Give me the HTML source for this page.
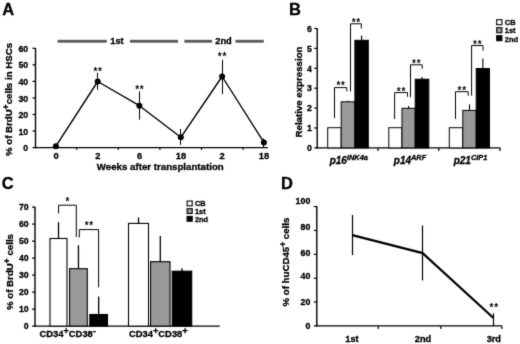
<!DOCTYPE html>
<html lang="en">
<head>
<meta charset="utf-8">
<title>Figure</title>
<style>
html,body{margin:0;padding:0;background:#fff;}
body{width:520px;height:344px;overflow:hidden;}
svg{display:block;filter:grayscale(1);}
svg text{font-family:"Liberation Sans", Arial, sans-serif;fill:#000;stroke:#000;stroke-width:0.3px;}
svg text.st{stroke-width:0;letter-spacing:0.7px;}
</style>
</head>
<body>
<svg width="520" height="344" viewBox="0 0 520 344">
<defs><filter id="soft" x="0" y="0" width="520" height="344" filterUnits="userSpaceOnUse" color-interpolation-filters="sRGB"><feConvolveMatrix order="3" kernelMatrix="0.02 0.08 0.02 0.08 0.6 0.08 0.02 0.08 0.02" divisor="1" edgeMode="duplicate" preserveAlpha="true"/></filter></defs>
<g filter="url(#soft)">
<rect x="-5" y="-5" width="530" height="354" fill="#fff"/>
<text x="2.2" y="14.5" font-size="16.5" text-anchor="start" font-weight="bold" font-style="normal" >A</text>
<rect x="57.6" y="39.8" width="49.2" height="2.9" fill="#5c5c5c"/>
<rect x="130" y="39.8" width="48.0" height="2.9" fill="#5c5c5c"/>
<rect x="184.4" y="39.8" width="27.7" height="2.9" fill="#5c5c5c"/>
<rect x="235.5" y="39.8" width="28.3" height="2.9" fill="#5c5c5c"/>
<text x="117" y="44.2" font-size="9.3" text-anchor="middle" font-weight="bold" font-style="normal" >1st</text>
<text x="223.5" y="44.2" font-size="9.3" text-anchor="middle" font-weight="bold" font-style="normal" >2nd</text>
<line x1="35.5" y1="48.0" x2="35.5" y2="148.29999999999998" stroke="#000" stroke-width="1.4" />
<line x1="34.8" y1="147.6" x2="268" y2="147.6" stroke="#000" stroke-width="1.4" />
<line x1="32.5" y1="147.6" x2="35.5" y2="147.6" stroke="#000" stroke-width="1.2" />
<text x="28.2" y="151.2" font-size="8.8" text-anchor="end" font-weight="bold" font-style="normal" >0</text>
<line x1="32.5" y1="131.04999999999998" x2="35.5" y2="131.04999999999998" stroke="#000" stroke-width="1.2" />
<text x="28.2" y="134.64999999999998" font-size="8.8" text-anchor="end" font-weight="bold" font-style="normal" >10</text>
<line x1="32.5" y1="114.5" x2="35.5" y2="114.5" stroke="#000" stroke-width="1.2" />
<text x="28.2" y="118.1" font-size="8.8" text-anchor="end" font-weight="bold" font-style="normal" >20</text>
<line x1="32.5" y1="97.94999999999999" x2="35.5" y2="97.94999999999999" stroke="#000" stroke-width="1.2" />
<text x="28.2" y="101.54999999999998" font-size="8.8" text-anchor="end" font-weight="bold" font-style="normal" >30</text>
<line x1="32.5" y1="81.39999999999999" x2="35.5" y2="81.39999999999999" stroke="#000" stroke-width="1.2" />
<text x="28.2" y="84.99999999999999" font-size="8.8" text-anchor="end" font-weight="bold" font-style="normal" >40</text>
<line x1="32.5" y1="64.85" x2="35.5" y2="64.85" stroke="#000" stroke-width="1.2" />
<text x="28.2" y="68.44999999999999" font-size="8.8" text-anchor="end" font-weight="bold" font-style="normal" >50</text>
<line x1="32.5" y1="48.3" x2="35.5" y2="48.3" stroke="#000" stroke-width="1.2" />
<text x="28.2" y="51.9" font-size="8.8" text-anchor="end" font-weight="bold" font-style="normal" >60</text>
<line x1="76.69999999999999" y1="147.6" x2="76.69999999999999" y2="150.1" stroke="#000" stroke-width="1.1" />
<line x1="118.3" y1="147.6" x2="118.3" y2="150.1" stroke="#000" stroke-width="1.1" />
<line x1="159.9" y1="147.6" x2="159.9" y2="150.1" stroke="#000" stroke-width="1.1" />
<line x1="201.5" y1="147.6" x2="201.5" y2="150.1" stroke="#000" stroke-width="1.1" />
<line x1="243.1" y1="147.6" x2="243.1" y2="150.1" stroke="#000" stroke-width="1.1" />
<polyline points="55.9,146.2 97.7,81.5 139.4,105.7 180.8,137.3 222.1,76.5 263.9,142.4" fill="none" stroke="#000" stroke-width="1.4" stroke-linejoin="round"/>
<circle cx="55.9" cy="146.2" r="3.0" fill="#000"/>
<line x1="97.5" y1="72.7" x2="97.5" y2="89.7" stroke="#000" stroke-width="1.0" />
<circle cx="97.7" cy="81.5" r="3.0" fill="#000"/>
<line x1="139.5" y1="91.3" x2="139.5" y2="119.6" stroke="#000" stroke-width="1.0" />
<circle cx="139.4" cy="105.7" r="3.0" fill="#000"/>
<line x1="180.5" y1="129" x2="180.5" y2="144.9" stroke="#000" stroke-width="1.0" />
<circle cx="180.8" cy="137.3" r="3.0" fill="#000"/>
<line x1="222.5" y1="59.8" x2="222.5" y2="94" stroke="#000" stroke-width="1.0" />
<circle cx="222.1" cy="76.5" r="3.0" fill="#000"/>
<line x1="263.5" y1="138.5" x2="263.5" y2="147" stroke="#000" stroke-width="1.0" />
<circle cx="263.9" cy="142.4" r="3.0" fill="#000"/>
<text x="56.0" y="159.3" font-size="9.3" text-anchor="middle" font-weight="bold" font-style="normal" >0</text>
<text x="97.8" y="159.3" font-size="9.3" text-anchor="middle" font-weight="bold" font-style="normal" >2</text>
<text x="139.5" y="159.3" font-size="9.3" text-anchor="middle" font-weight="bold" font-style="normal" >6</text>
<text x="180.9" y="159.3" font-size="9.3" text-anchor="middle" font-weight="bold" font-style="normal" >18</text>
<text x="222.2" y="159.3" font-size="9.3" text-anchor="middle" font-weight="bold" font-style="normal" >2</text>
<text x="264.0" y="159.3" font-size="9.3" text-anchor="middle" font-weight="bold" font-style="normal" >18</text>
<text x="98.05" y="75" font-size="10" text-anchor="middle" font-weight="bold" font-style="normal" class="st">**</text>
<text x="139.75" y="93" font-size="10" text-anchor="middle" font-weight="bold" font-style="normal" class="st">**</text>
<text x="222.45" y="60" font-size="10" text-anchor="middle" font-weight="bold" font-style="normal" class="st">**</text>
<text x="160.3" y="170.2" font-size="9.7" text-anchor="middle" font-weight="bold" font-style="normal" >Weeks after transplantation</text>
<text transform="translate(11.8,99.5) rotate(-90)" font-size="9.7" text-anchor="middle" font-weight="bold" >% of BrdU<tspan font-size="8.5" dy="-3.1">+</tspan><tspan dy="3.1">cells in HSCs</tspan></text>
<text x="289.0" y="14.5" font-size="16.5" text-anchor="start" font-weight="bold" font-style="normal" >B</text>
<line x1="317.2" y1="28.0" x2="317.2" y2="148.6" stroke="#000" stroke-width="1.4" />
<line x1="316.5" y1="147.9" x2="500.5" y2="147.9" stroke="#000" stroke-width="1.4" />
<line x1="314.2" y1="147.9" x2="317.2" y2="147.9" stroke="#000" stroke-width="1.2" />
<text x="312" y="151.1" font-size="8.8" text-anchor="end" font-weight="bold" font-style="normal" >0</text>
<line x1="314.2" y1="128.0" x2="317.2" y2="128.0" stroke="#000" stroke-width="1.2" />
<text x="312" y="131.2" font-size="8.8" text-anchor="end" font-weight="bold" font-style="normal" >1</text>
<line x1="314.2" y1="108.10000000000001" x2="317.2" y2="108.10000000000001" stroke="#000" stroke-width="1.2" />
<text x="312" y="111.30000000000001" font-size="8.8" text-anchor="end" font-weight="bold" font-style="normal" >2</text>
<line x1="314.2" y1="88.20000000000002" x2="317.2" y2="88.20000000000002" stroke="#000" stroke-width="1.2" />
<text x="312" y="91.40000000000002" font-size="8.8" text-anchor="end" font-weight="bold" font-style="normal" >3</text>
<line x1="314.2" y1="68.30000000000001" x2="317.2" y2="68.30000000000001" stroke="#000" stroke-width="1.2" />
<text x="312" y="71.50000000000001" font-size="8.8" text-anchor="end" font-weight="bold" font-style="normal" >4</text>
<line x1="314.2" y1="48.400000000000006" x2="317.2" y2="48.400000000000006" stroke="#000" stroke-width="1.2" />
<text x="312" y="51.60000000000001" font-size="8.8" text-anchor="end" font-weight="bold" font-style="normal" >5</text>
<line x1="314.2" y1="28.500000000000014" x2="317.2" y2="28.500000000000014" stroke="#000" stroke-width="1.2" />
<text x="312" y="31.700000000000014" font-size="8.8" text-anchor="end" font-weight="bold" font-style="normal" >6</text>
<line x1="378" y1="147.9" x2="378" y2="150.9" stroke="#000" stroke-width="1.2" />
<line x1="438.8" y1="147.9" x2="438.8" y2="150.9" stroke="#000" stroke-width="1.2" />
<line x1="500" y1="147.9" x2="500" y2="150.9" stroke="#000" stroke-width="1.2" />
<rect x="327.70" y="127.70" width="13.50" height="20.20" fill="#fff" stroke="#000" stroke-width="1"/>
<line x1="348.04999999999995" y1="100.8" x2="348.04999999999995" y2="101.8" stroke="#000" stroke-width="1.1" />
<rect x="341.20" y="101.80" width="13.70" height="46.10" fill="#999" stroke="#000" stroke-width="1"/>
<line x1="361.6" y1="35.6" x2="361.6" y2="40.3" stroke="#000" stroke-width="1.1" />
<rect x="354.90" y="40.30" width="13.40" height="107.60" fill="#000" stroke="#000" stroke-width="1"/>
<rect x="388.80" y="127.70" width="13.20" height="20.20" fill="#fff" stroke="#000" stroke-width="1"/>
<line x1="408.6" y1="106" x2="408.6" y2="108.3" stroke="#000" stroke-width="1.1" />
<rect x="402.00" y="108.30" width="13.20" height="39.60" fill="#999" stroke="#000" stroke-width="1"/>
<line x1="422.0" y1="77" x2="422.0" y2="79.2" stroke="#000" stroke-width="1.1" />
<rect x="415.20" y="79.20" width="13.60" height="68.70" fill="#000" stroke="#000" stroke-width="1"/>
<rect x="449.30" y="127.70" width="13.50" height="20.20" fill="#fff" stroke="#000" stroke-width="1"/>
<line x1="469.5" y1="104.3" x2="469.5" y2="110.4" stroke="#000" stroke-width="1.1" />
<rect x="462.80" y="110.40" width="13.40" height="37.50" fill="#999" stroke="#000" stroke-width="1"/>
<line x1="482.85" y1="58.6" x2="482.85" y2="68.5" stroke="#000" stroke-width="1.1" />
<rect x="476.20" y="68.50" width="13.30" height="79.40" fill="#000" stroke="#000" stroke-width="1"/>
<polyline points="334.5,118 334.5,87.6 346.8,87.6 346.8,91.4" fill="none" stroke="#000" stroke-width="1.0"/>
<text x="341.0" y="89" font-size="10" text-anchor="middle" font-weight="bold" font-style="normal" class="st">**</text>
<polyline points="350.5,91.5 350.5,23.8 361.3,23.8 361.3,28.5" fill="none" stroke="#000" stroke-width="1.0"/>
<text x="356.25" y="26" font-size="10" text-anchor="middle" font-weight="bold" font-style="normal" class="st">**</text>
<polyline points="394.6,119.1 394.6,92.6 407.5,92.6 407.5,96.8" fill="none" stroke="#000" stroke-width="1.0"/>
<text x="401.40000000000003" y="95" font-size="10" text-anchor="middle" font-weight="bold" font-style="normal" class="st">**</text>
<polyline points="410.5,97.3 410.5,64.8 422.2,64.8 422.2,68.8" fill="none" stroke="#000" stroke-width="1.0"/>
<text x="416.70000000000005" y="67" font-size="10" text-anchor="middle" font-weight="bold" font-style="normal" class="st">**</text>
<polyline points="455.5,118.8 455.5,91.7 468.2,91.7 468.2,95.7" fill="none" stroke="#000" stroke-width="1.0"/>
<text x="462.20000000000005" y="94" font-size="10" text-anchor="middle" font-weight="bold" font-style="normal" class="st">**</text>
<polyline points="471.6,95.7 471.6,45.5 483,45.5 483,50.7" fill="none" stroke="#000" stroke-width="1.0"/>
<text x="477.65000000000003" y="48" font-size="10" text-anchor="middle" font-weight="bold" font-style="normal" class="st">**</text>
<text x="348.8" y="163.6" font-size="10" text-anchor="middle" font-weight="bold" font-style="italic" >p16<tspan font-size="7.4" dy="-3.7">INK4a</tspan></text>
<text x="410" y="163.6" font-size="10" text-anchor="middle" font-weight="bold" font-style="italic" >p14<tspan font-size="7.4" dy="-3.7">ARF</tspan></text>
<text x="470.5" y="163.6" font-size="10" text-anchor="middle" font-weight="bold" font-style="italic" >p21<tspan font-size="7.4" dy="-3.7">CIP1</tspan></text>
<text transform="translate(301.8,92) rotate(-90)" font-size="9.7" text-anchor="middle" font-weight="bold" >Relative expression</text>
<rect x="496.70" y="19.70" width="5.20" height="5.00" fill="#fff" stroke="#000" stroke-width="1.1"/>
<text x="504.8" y="25.2" font-size="7.4" text-anchor="start" font-weight="bold" font-style="normal" >CB</text>
<rect x="496.70" y="27.70" width="5.20" height="5.00" fill="#999" stroke="#000" stroke-width="1.1"/>
<text x="504.8" y="33.4" font-size="7.4" text-anchor="start" font-weight="bold" font-style="normal" >1st</text>
<rect x="496.70" y="35.70" width="5.20" height="5.00" fill="#000" stroke="#000" stroke-width="1.1"/>
<text x="504.8" y="41.8" font-size="7.4" text-anchor="start" font-weight="bold" font-style="normal" >2nd</text>
<text x="1.7" y="189.1" font-size="16.5" text-anchor="start" font-weight="bold" font-style="normal" >C</text>
<line x1="35.0" y1="206.7" x2="35.0" y2="326.8" stroke="#000" stroke-width="1.4" />
<line x1="34.3" y1="326.1" x2="219.8" y2="326.1" stroke="#000" stroke-width="1.4" />
<line x1="32.0" y1="326.1" x2="35.0" y2="326.1" stroke="#000" stroke-width="1.2" />
<text x="28.6" y="329.40000000000003" font-size="8.7" text-anchor="end" font-weight="bold" font-style="normal" >0</text>
<line x1="32.0" y1="309.1" x2="35.0" y2="309.1" stroke="#000" stroke-width="1.2" />
<text x="28.6" y="312.40000000000003" font-size="8.7" text-anchor="end" font-weight="bold" font-style="normal" >10</text>
<line x1="32.0" y1="292.1" x2="35.0" y2="292.1" stroke="#000" stroke-width="1.2" />
<text x="28.6" y="295.40000000000003" font-size="8.7" text-anchor="end" font-weight="bold" font-style="normal" >20</text>
<line x1="32.0" y1="275.1" x2="35.0" y2="275.1" stroke="#000" stroke-width="1.2" />
<text x="28.6" y="278.40000000000003" font-size="8.7" text-anchor="end" font-weight="bold" font-style="normal" >30</text>
<line x1="32.0" y1="258.1" x2="35.0" y2="258.1" stroke="#000" stroke-width="1.2" />
<text x="28.6" y="261.40000000000003" font-size="8.7" text-anchor="end" font-weight="bold" font-style="normal" >40</text>
<line x1="32.0" y1="241.10000000000002" x2="35.0" y2="241.10000000000002" stroke="#000" stroke-width="1.2" />
<text x="28.6" y="244.40000000000003" font-size="8.7" text-anchor="end" font-weight="bold" font-style="normal" >50</text>
<line x1="32.0" y1="224.10000000000002" x2="35.0" y2="224.10000000000002" stroke="#000" stroke-width="1.2" />
<text x="28.6" y="227.40000000000003" font-size="8.7" text-anchor="end" font-weight="bold" font-style="normal" >60</text>
<line x1="32.0" y1="207.10000000000002" x2="35.0" y2="207.10000000000002" stroke="#000" stroke-width="1.2" />
<text x="28.6" y="210.40000000000003" font-size="8.7" text-anchor="end" font-weight="bold" font-style="normal" >70</text>
<line x1="58.5" y1="222.2" x2="58.5" y2="238.5" stroke="#000" stroke-width="1.3" />
<rect x="50.00" y="238.50" width="17.00" height="87.60" fill="#fff" stroke="#000" stroke-width="1.1"/>
<line x1="78.44999999999999" y1="245.2" x2="78.44999999999999" y2="268.7" stroke="#000" stroke-width="1.3" />
<rect x="69.60" y="268.70" width="17.70" height="57.40" fill="#999" stroke="#000" stroke-width="1.1"/>
<line x1="98.65" y1="296.5" x2="98.65" y2="314.5" stroke="#000" stroke-width="1.3" />
<rect x="89.80" y="314.50" width="17.70" height="11.60" fill="#000" stroke="#000" stroke-width="1.1"/>
<line x1="138.5" y1="217.5" x2="138.5" y2="223.4" stroke="#000" stroke-width="1.3" />
<rect x="128.50" y="223.40" width="20.00" height="102.70" fill="#fff" stroke="#000" stroke-width="1.1"/>
<line x1="160.3" y1="236" x2="160.3" y2="261.7" stroke="#000" stroke-width="1.3" />
<rect x="150.60" y="261.70" width="19.40" height="64.40" fill="#999" stroke="#000" stroke-width="1.1"/>
<line x1="181.95" y1="268.2" x2="181.95" y2="271.2" stroke="#000" stroke-width="1.3" />
<rect x="172.20" y="271.20" width="19.50" height="54.90" fill="#000" stroke="#000" stroke-width="1.1"/>
<polyline points="58.6,213.5 58.6,205.2 76.3,205.2 76.3,237" fill="none" stroke="#000" stroke-width="1.0"/>
<text x="67.8" y="205" font-size="10" text-anchor="middle" font-weight="bold" font-style="normal" class="st">*</text>
<polyline points="79.3,237.5 79.3,229.6 98.6,229.6 98.6,287.4" fill="none" stroke="#000" stroke-width="1.0"/>
<text x="89.29999999999998" y="229" font-size="10" text-anchor="middle" font-weight="bold" font-style="normal" class="st">**</text>
<text x="39.5" y="336.9" font-size="9.4" text-anchor="start" font-weight="bold" font-style="normal" >CD34<tspan font-size="9.2" dy="-3.0">+</tspan><tspan dy="3.0">CD38</tspan><tspan font-size="9.6" dy="-3.0">-</tspan></text>
<text x="129" y="336.9" font-size="9.4" text-anchor="start" font-weight="bold" font-style="normal" >CD34<tspan font-size="9.2" dy="-3.0">+</tspan><tspan dy="3.0">CD38</tspan><tspan font-size="9.6" dy="-3.0">+</tspan></text>
<text transform="translate(13.2,272) rotate(-90)" font-size="9.7" text-anchor="middle" font-weight="bold" >% of BrdU<tspan font-size="8.5" dy="-3.1">+</tspan><tspan dy="3.1"> cells</tspan></text>
<rect x="187.10" y="201.00" width="5.10" height="4.80" fill="#fff" stroke="#000" stroke-width="1.1"/>
<text x="195.0" y="205.7" font-size="7.4" text-anchor="start" font-weight="bold" font-style="normal" >CB</text>
<rect x="187.10" y="208.70" width="5.10" height="4.80" fill="#999" stroke="#000" stroke-width="1.1"/>
<text x="195.0" y="213.9" font-size="7.4" text-anchor="start" font-weight="bold" font-style="normal" >1st</text>
<rect x="187.10" y="216.40" width="5.10" height="4.80" fill="#000" stroke="#000" stroke-width="1.1"/>
<text x="195.0" y="221.7" font-size="7.4" text-anchor="start" font-weight="bold" font-style="normal" >2nd</text>
<text x="281.0" y="189.1" font-size="16.5" text-anchor="start" font-weight="bold" font-style="normal" >D</text>
<line x1="316.8" y1="206" x2="316.8" y2="326.59999999999997" stroke="#000" stroke-width="1.4" />
<line x1="316.1" y1="325.9" x2="502" y2="325.9" stroke="#000" stroke-width="1.4" />
<line x1="313.8" y1="325.9" x2="316.8" y2="325.9" stroke="#000" stroke-width="1.2" />
<text x="310.3" y="329" font-size="8.8" text-anchor="end" font-weight="bold" font-style="normal" >0</text>
<line x1="313.8" y1="302.03999999999996" x2="316.8" y2="302.03999999999996" stroke="#000" stroke-width="1.2" />
<text x="310.3" y="304.8" font-size="8.8" text-anchor="end" font-weight="bold" font-style="normal" >20</text>
<line x1="313.8" y1="278.17999999999995" x2="316.8" y2="278.17999999999995" stroke="#000" stroke-width="1.2" />
<text x="310.3" y="279.2" font-size="8.8" text-anchor="end" font-weight="bold" font-style="normal" >40</text>
<line x1="313.8" y1="254.32" x2="316.8" y2="254.32" stroke="#000" stroke-width="1.2" />
<text x="310.3" y="255.8" font-size="8.8" text-anchor="end" font-weight="bold" font-style="normal" >60</text>
<line x1="313.8" y1="230.45999999999998" x2="316.8" y2="230.45999999999998" stroke="#000" stroke-width="1.2" />
<text x="310.3" y="229.6" font-size="8.8" text-anchor="end" font-weight="bold" font-style="normal" >80</text>
<line x1="313.8" y1="206.59999999999997" x2="316.8" y2="206.59999999999997" stroke="#000" stroke-width="1.2" />
<text x="310.3" y="203.8" font-size="8.8" text-anchor="end" font-weight="bold" font-style="normal" >100</text>
<line x1="378.3" y1="325.9" x2="378.3" y2="328.9" stroke="#000" stroke-width="1.2" />
<line x1="440.8" y1="325.9" x2="440.8" y2="328.9" stroke="#000" stroke-width="1.2" />
<line x1="501.8" y1="325.9" x2="501.8" y2="328.9" stroke="#000" stroke-width="1.2" />
<polyline points="352.3,235.1 422.6,253.1 493.5,318" fill="none" stroke="#000" stroke-width="2.2" stroke-linejoin="miter"/>
<line x1="352.5" y1="214.9" x2="352.5" y2="255.1" stroke="#000" stroke-width="1.2" />
<line x1="422.5" y1="225.5" x2="422.5" y2="280.4" stroke="#000" stroke-width="1.2" />
<line x1="493.5" y1="313.3" x2="493.5" y2="325.9" stroke="#000" stroke-width="1.2" />
<text x="494.15000000000003" y="311" font-size="10" text-anchor="middle" font-weight="bold" font-style="normal" class="st">**</text>
<text x="352" y="341.9" font-size="9.2" text-anchor="middle" font-weight="bold" font-style="normal" >1st</text>
<text x="423" y="341.9" font-size="9.2" text-anchor="middle" font-weight="bold" font-style="normal" >2nd</text>
<text x="493.8" y="341.9" font-size="9.2" text-anchor="middle" font-weight="bold" font-style="normal" >3rd</text>
<text transform="translate(288.8,262.1) rotate(-90)" font-size="9.7" text-anchor="middle" font-weight="bold" >% of huCD45<tspan font-size="8.5" dy="-3.1">+</tspan><tspan dy="3.1"> cells</tspan></text>
</g>
</svg>
</body>
</html>
